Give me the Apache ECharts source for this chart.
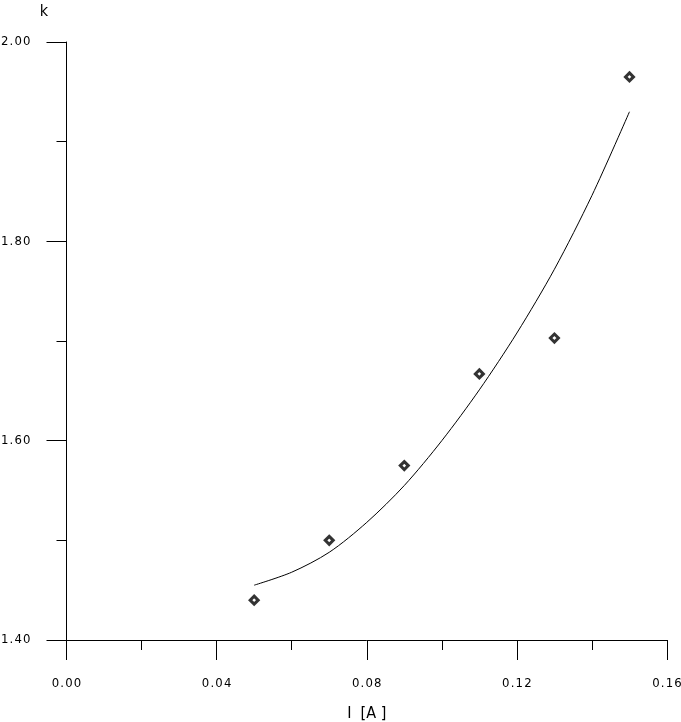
<!DOCTYPE html>
<html>
<head>
<meta charset="utf-8">
<script src="https://cdn.jsdelivr.net/npm/echarts@6/dist/echarts.min.js"></script>
<style>
  html, body { margin: 0; padding: 0; background: #fff; }
</style>
</head>
<body>
<div id="chart" style="width: 681px; height: 722px"></div>
<script>
// measured points
const pointX = [0.05, 0.07, 0.09, 0.11, 0.13, 0.15];
const pointY = [1.44, 1.50, 1.575, 1.667, 1.703, 1.965];
// fitted curve
const curveX = [0.05, 0.06, 0.07, 0.08, 0.09, 0.10, 0.11, 0.12, 0.13, 0.14, 0.15];
const curveY = [1.455, 1.468, 1.488, 1.518, 1.555, 1.600, 1.651, 1.708, 1.772, 1.846, 1.930];

// spread characters a little, like the original plotter font
const spaced = (s) => s.split("").join("\u200A");
const font = "'DejaVu Sans Condensed', 'Liberation Sans Narrow', sans-serif";

const myChart = echarts.init(document.getElementById("chart"));
const option = {
  animation: false,
  grid: { left: 66.5, right: 14, top: 42, bottom: 82, outerBoundsMode: "none", containLabel: false },
  xAxis: {
    type: "value",
    min: 0,
    max: 0.16,
    interval: 0.04,
    name: "I  [A ]",
    nameLocation: "middle",
    nameGap: 66,
    nameTextStyle: { color: "#000", fontFamily: font, fontSize: 16 },
    axisLine: { lineStyle: { color: "#000", width: 1 } },
    axisTick: { length: 20, lineStyle: { color: "#000" } },
    minorTick: { show: true, splitNumber: 2, length: 10, lineStyle: { color: "#000" } },
    splitLine: { show: false },
    axisLabel: {
      color: "#000",
      fontFamily: font,
      fontSize: 13,
      margin: 37,
      formatter: (v) => spaced(v.toFixed(2)),
    },
  },
  yAxis: {
    type: "value",
    min: 1.4,
    max: 2.0,
    interval: 0.2,
    name: "k",
    nameLocation: "end",
    nameGap: 22,
    nameTextStyle: { color: "#000", fontFamily: font, fontSize: 16, padding: [0, 45, 0, 0] },
    axisLine: { show: true, lineStyle: { color: "#000", width: 1 } },
    axisTick: { show: true, length: 20, lineStyle: { color: "#000" } },
    minorTick: { show: true, splitNumber: 2, length: 10, lineStyle: { color: "#000" } },
    splitLine: { show: false },
    axisLabel: {
      color: "#000",
      fontFamily: font,
      fontSize: 13,
      margin: 36,
      formatter: (v) => spaced(v.toFixed(2)),
    },
  },
  series: [
    {
      type: "line",
      data: curveX.map((x, i) => [x, curveY[i]]),
      smooth: 0.3,
      showSymbol: false,
      lineStyle: { color: "#000", width: 1 },
    },
    {
      type: "scatter",
      data: pointX.map((x, i) => [x, pointY[i]]),
      symbol: "diamond",
      symbolSize: 8,
      itemStyle: { color: "#fff", borderColor: "#000", borderWidth: 3 },
    },
  ],
};
myChart.setOption(option);
</script>
</body>
</html>
